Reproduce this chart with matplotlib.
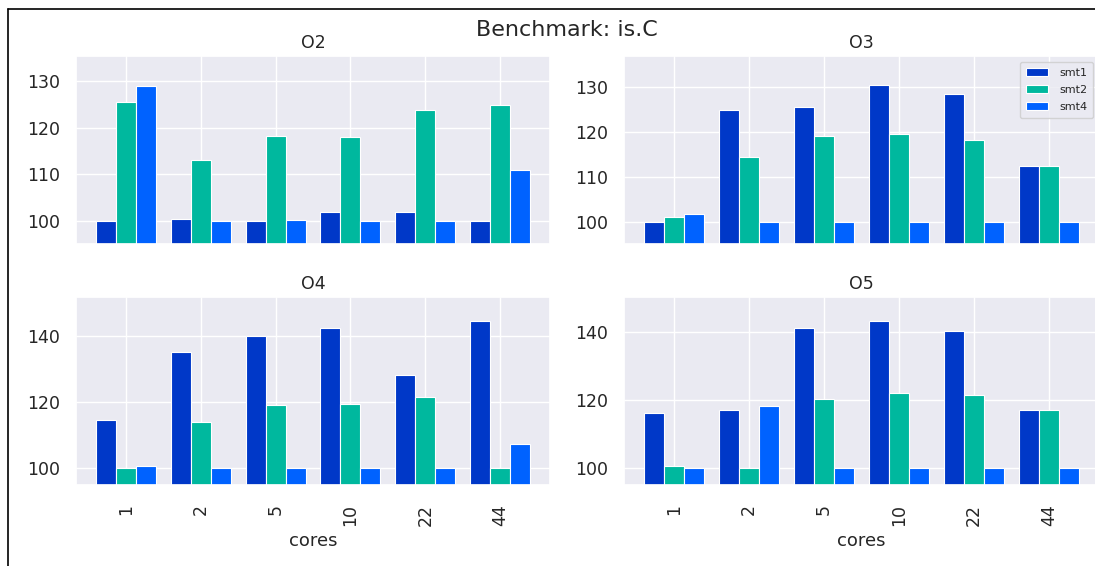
import matplotlib
matplotlib.use("Agg")
import matplotlib.pyplot as plt
import numpy as np
import seaborn as sns
from matplotlib.lines import Line2D
from matplotlib.ticker import MultipleLocator

sns.set_theme(style="darkgrid")

# Data
cores = ["1", "2", "5", "10", "22", "44"]
series = ["smt1", "smt2", "smt4"]
colors = ["#0038c8", "#00b89e", "#0062ff"]

o2_smt1 = [100.0, 100.3, 100.0, 101.9, 101.9, 100.0]
o2_smt2 = [125.4, 113.1, 118.2, 117.9, 123.7, 124.8]
o2_smt4 = [128.9, 100.0, 100.2, 100.0, 100.0, 110.9]

o3_smt1 = [100.0, 124.9, 125.4, 130.3, 128.3, 112.3]
o3_smt2 = [101.0, 114.3, 119.0, 119.4, 118.2, 112.3]
o3_smt4 = [101.7, 100.0, 100.0, 100.0, 100.0, 100.0]

o4_smt1 = [114.7, 135.4, 140.1, 142.4, 128.2, 144.7]
o4_smt2 = [100.0, 114.1, 119.1, 119.4, 121.6, 100.0]
o4_smt4 = [100.8, 100.0, 100.0, 100.0, 100.0, 107.4]

o5_smt1 = [116.2, 117.2, 141.4, 143.3, 140.4, 117.2]
o5_smt2 = [100.5, 100.0, 120.5, 122.1, 121.5, 117.2]
o5_smt4 = [100.0, 118.2, 100.0, 100.0, 100.0, 100.0]

panels = [
    ("O2", [o2_smt1, o2_smt2, o2_smt4]),
    ("O3", [o3_smt1, o3_smt2, o3_smt4]),
    ("O4", [o4_smt1, o4_smt2, o4_smt4]),
    ("O5", [o5_smt1, o5_smt2, o5_smt4]),
]

W, H = 1095, 566
fig = plt.figure(figsize=(W / 100, H / 100), dpi=100)

# axes boxes in pixels: left, top, right, bottom (right column is cut off by the crop)
boxes = [(76, 56, 550, 244), (624, 56, 1099, 244),
         (76, 297, 550, 485), (624, 297, 1099, 485)]

x = np.arange(len(cores))
bw = 0.8 / len(series)

for i, ((name, vals), (l, t, r, b)) in enumerate(zip(panels, boxes)):
    ax = fig.add_axes([l / W, 1 - b / H, (r - l) / W, (b - t) / H])
    for j, (s, v) in enumerate(zip(series, vals)):
        ax.bar(x + (j - 1) * bw, v, width=bw, color=colors[j],
               edgecolor="white", linewidth=0.8, label=s)
    ax.set_xlim(-0.4 - bw, len(cores) - 0.6 + bw)
    ax.set_ylim(95, max(max(v) for v in vals) * 1.05)
    ax.yaxis.set_major_locator(MultipleLocator(10 if i < 2 else 20))
    ax.set_xticks(x)
    ax.set_title(name, fontsize=12.5)
    ax.tick_params(axis="y", labelsize=12.5, pad=5.5)
    ax.tick_params(axis="x", labelsize=12.5, pad=8)
    if i >= 2:
        ax.set_xticklabels(cores, rotation=90)
        ax.set_xlabel("cores", fontsize=13)
    else:
        ax.set_xticklabels([])
    if name == "O3":
        ax.legend(loc="upper right", fontsize=8, labelspacing=0.65,
                  borderpad=0.55, handletextpad=1.0)

fig.suptitle("Benchmark: is.C", x=567 / W, y=1 - 30 / H, va="center", fontsize=16)

# screenshot frame
fig.add_artist(Line2D([7.5 / W, 7.5 / W], [0, 1 - 9 / H], color="black", lw=1.2,
                      transform=fig.transFigure))
fig.add_artist(Line2D([7.5 / W, 1], [1 - 9 / H, 1 - 9 / H], color="black", lw=1.2,
                      transform=fig.transFigure))

fig.savefig("out.png", dpi=100, facecolor="white")
